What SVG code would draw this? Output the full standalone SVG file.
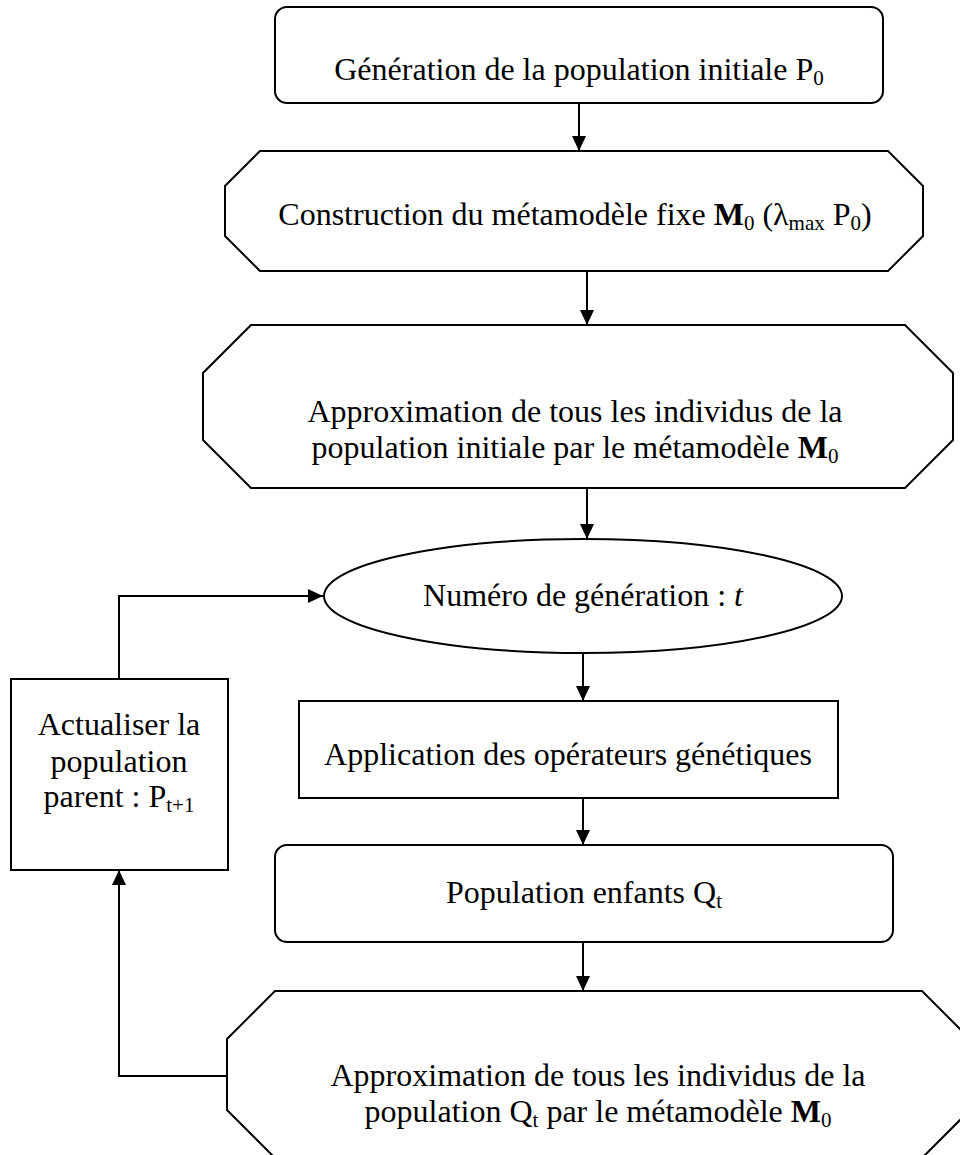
<svg xmlns="http://www.w3.org/2000/svg" width="960" height="1155" viewBox="0 0 960 1155">
<defs>
<marker id="arr" markerUnits="userSpaceOnUse" markerWidth="16" markerHeight="14" refX="15" refY="7" orient="auto">
<path d="M0,0 L15,7 L0,14 z" fill="#000"/>
</marker>
<style>
.s{fill:#fff;stroke:#000;stroke-width:2}
.t{font-family:"Liberation Serif","Times New Roman",serif;font-size:32px;fill:#000;text-anchor:middle}
.c{fill:none;stroke:#000;stroke-width:2}
</style>
</defs>
<rect width="960" height="1155" fill="#fff"/>
<g id="connectors">
<line class="c" x1="579" y1="103" x2="579" y2="151" marker-end="url(#arr)"/>
<line class="c" x1="587" y1="271" x2="587" y2="325" marker-end="url(#arr)"/>
<line class="c" x1="587" y1="488" x2="587" y2="539" marker-end="url(#arr)"/>
<line class="c" x1="583" y1="653" x2="583" y2="701" marker-end="url(#arr)"/>
<line class="c" x1="583" y1="798" x2="583" y2="845" marker-end="url(#arr)"/>
<line class="c" x1="583" y1="942" x2="583" y2="991" marker-end="url(#arr)"/>
<polyline class="c" points="227,1076 119,1076 119,870" marker-end="url(#arr)"/>
<polyline class="c" points="119,679 119,596 323,596" marker-end="url(#arr)"/>
</g>
<g id="n1">
<rect class="s" x="275" y="7" width="608" height="96" rx="12"/>
<text class="t" x="579" y="80">Génération de la population initiale P<tspan font-size="21" dy="5">0</tspan></text>
</g>
<g id="n2">
<polygon class="s" points="260,151 888,151 923,186 923,236 888,271 260,271 225,236 225,186"/>
<text class="t" x="575" y="225">Construction du métamodèle fixe <tspan font-weight="bold">M</tspan><tspan font-size="21" dy="5">0</tspan><tspan dy="-5"> (λ</tspan><tspan font-size="21" dy="5">max</tspan><tspan dy="-5"> P</tspan><tspan font-size="21" dy="5">0</tspan><tspan dy="-5">)</tspan></text>
</g>
<g id="n3">
<polygon class="s" points="251,325 905,325 953,373 953,440 905,488 251,488 203,440 203,373"/>
<text class="t" x="575" y="422">Approximation de tous les individus de la</text>
<text class="t" x="575" y="458">population initiale par le métamodèle <tspan font-weight="bold">M</tspan><tspan font-size="21" dy="5">0</tspan></text>
</g>
<g id="n4">
<ellipse class="s" cx="583" cy="596" rx="259" ry="57"/>
<text class="t" x="583" y="606">Numéro de génération : <tspan font-style="italic">t</tspan></text>
</g>
<g id="n5">
<rect class="s" x="299" y="701" width="539" height="97"/>
<text class="t" x="568" y="765">Application des opérateurs génétiques</text>
</g>
<g id="n6">
<rect class="s" x="275" y="845" width="618" height="97" rx="12"/>
<text class="t" x="584" y="903">Population enfants Q<tspan font-size="21" dy="5">t</tspan></text>
</g>
<g id="n7">
<polygon class="s" points="275,991 922,991 970,1039 970,1110 922,1158 275,1158 227,1110 227,1039"/>
<text class="t" x="598" y="1086">Approximation de tous les individus de la</text>
<text class="t" x="598" y="1122">population Q<tspan font-size="21" dy="5">t</tspan><tspan dy="-5"> par le métamodèle </tspan><tspan font-weight="bold">M</tspan><tspan font-size="21" dy="5">0</tspan></text>
</g>
<g id="n8">
<rect class="s" x="11" y="679" width="217" height="191"/>
<text class="t" x="119" y="735">Actualiser la</text>
<text class="t" x="119" y="772">population</text>
<text class="t" x="119" y="807">parent : P<tspan font-size="21" dy="5">t+1</tspan></text>
</g>
</svg>
